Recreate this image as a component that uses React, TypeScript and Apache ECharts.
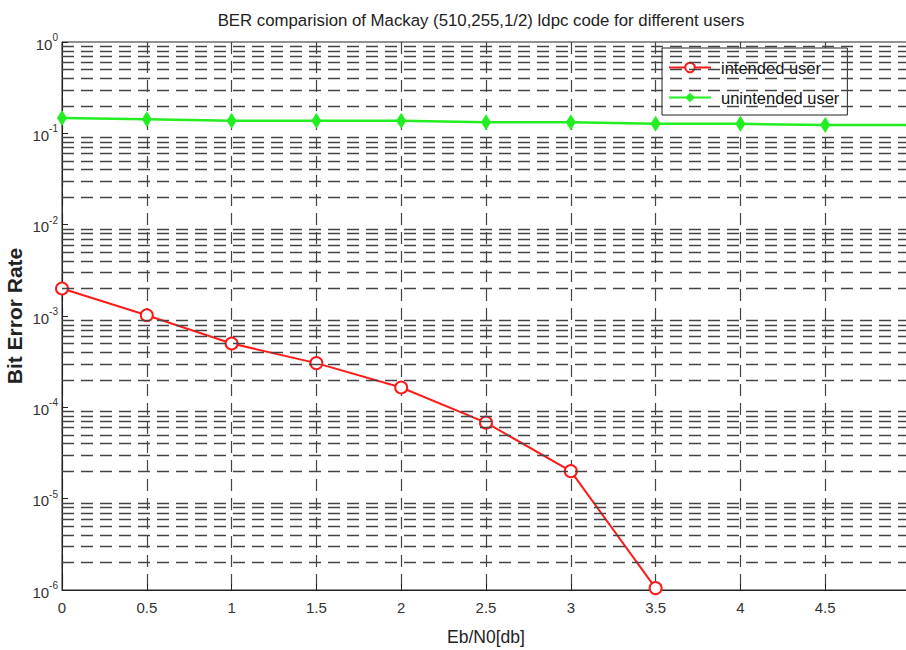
import React, { useEffect, useRef } from "react";
import * as echarts from "echarts";

const ebN0 = [0, 0.5, 1, 1.5, 2, 2.5, 3, 3.5, 4, 4.5, 5];
const intendedBer = [2e-3, 1.02e-3, 5e-4, 3.05e-4, 1.65e-4, 6.8e-5, 2e-5, 1.05e-6];
const unintendedBer = [0.147, 0.143, 0.137, 0.137, 0.137, 0.132, 0.132, 0.127, 0.127, 0.123, 0.123];
const decadeExps = [-6, -5, -4, -3, -2, -1];
const minorMultipliers = [2, 3, 4, 5, 6, 7, 8, 9];
const titleText = "BER comparision of Mackay (510,255,1/2) ldpc code for different users";

export default function App() {
  const ref = useRef<HTMLDivElement>(null);
  useEffect(() => {
    if (!ref.current) return;
    const chart = echarts.init(ref.current, null, { renderer: "svg" });
    const gridValues: number[] = [];
    decadeExps.forEach((e) => minorMultipliers.forEach((m) => gridValues.push(m * Math.pow(10, e))));
    const font = "Liberation Sans, Arial, sans-serif";
    chart.setOption({
      animation: false,
      backgroundColor: "#ffffff",
      textStyle: { fontFamily: font },
      graphic: [
        {
          type: "text",
          x: 481,
          y: 20,
          style: { text: titleText, fontSize: 16.8, fontFamily: font, fill: "#222", textAlign: "center", textVerticalAlign: "middle" },
        },
      ],
      grid: {
        left: 62,
        top: 42,
        width: 848,
        height: 548,
        outerBoundsMode: "none",
        containLabel: false,
        show: true,
        borderColor: "#222",
        borderWidth: 1,
        backgroundColor: "transparent",
      },
      legend: {
        left: 662,
        top: 48,
        orient: "vertical",
        data: ["intended user", "unintended user"],
        backgroundColor: "#fff",
        borderColor: "#222",
        borderWidth: 1,
        borderRadius: 0,
        padding: [11, 8, 9, 6],
        itemGap: 13,
        itemWidth: 42,
        itemHeight: 12,
        textStyle: { fontSize: 16.5, color: "#111", fontFamily: font, padding: [0, 0, 0, 5] },
      },
      xAxis: {
        type: "value",
        min: 0,
        max: 5,
        interval: 0.5,
        name: "Eb/N0[db]",
        nameLocation: "middle",
        nameGap: 38,
        nameTextStyle: { fontSize: 17.5, color: "#222" },
        axisLine: { show: true, lineStyle: { color: "#222", width: 1 } },
        axisTick: { show: true, inside: true, length: 6, lineStyle: { color: "#222" } },
        axisLabel: { fontSize: 15, color: "#333", margin: 10, showMaxLabel: false },
        splitLine: { show: true, lineStyle: { color: "#444", type: [12, 7], width: 1.2 } },
      },
      yAxis: {
        type: "log",
        logBase: 10,
        min: 1e-6,
        max: 1,
        name: "Bit Error Rate",
        nameLocation: "middle",
        nameGap: 37,
        nameMoveOverlap: false,
        nameTextStyle: { fontSize: 21, color: "#222", fontWeight: "bold" },
        axisLine: { show: true, lineStyle: { color: "#222", width: 1 } },
        axisTick: { show: true, inside: true, length: 6, lineStyle: { color: "#222" } },
        splitLine: { show: false },
        axisLabel: {
          margin: 4,
          color: "#333",
          formatter: (v: number) => `{b|10}{s|${Math.round(Math.log10(v))}}`,
          rich: {
            b: { fontSize: 15, color: "#333", verticalAlign: "bottom" },
            s: { fontSize: 10, color: "#333", verticalAlign: "top", padding: [0, 0, 9, 0] },
          },
        },
      },
      series: [
        {
          name: "grid",
          type: "line",
          data: [],
          silent: true,
          z: 1,
          markLine: {
            silent: true,
            symbol: "none",
            precision: 12,
            label: { show: false },
            lineStyle: { color: "#444", type: [12, 7], width: 1.3 },
            data: gridValues.map((v) => ({ yAxis: v })),
          },
        },
        {
          name: "intended user",
          type: "line",
          z: 3,
          data: intendedBer.map((v, i) => [ebN0[i], v]),
          symbol: "circle",
          symbolSize: 12,
          showSymbol: true,
          itemStyle: { color: "#fff", borderColor: "#ff1a1a", borderWidth: 2 },
          lineStyle: { color: "#ff1a1a", width: 2 },
          color: "#ff1a1a",
        },
        {
          name: "unintended user",
          type: "line",
          z: 3,
          data: unintendedBer.map((v, i) => [ebN0[i], v]),
          symbol: "diamond",
          symbolSize: [10, 16],
          itemStyle: { color: "#22ee22" },
          lineStyle: { color: "#22ee22", width: 2.5 },
          color: "#22ee22",
        },
      ],
    });
    return () => chart.dispose();
  }, []);
  return <div ref={ref} style={{ position: "absolute", left: 0, top: 0, width: 906, height: 650 }} />;
}
